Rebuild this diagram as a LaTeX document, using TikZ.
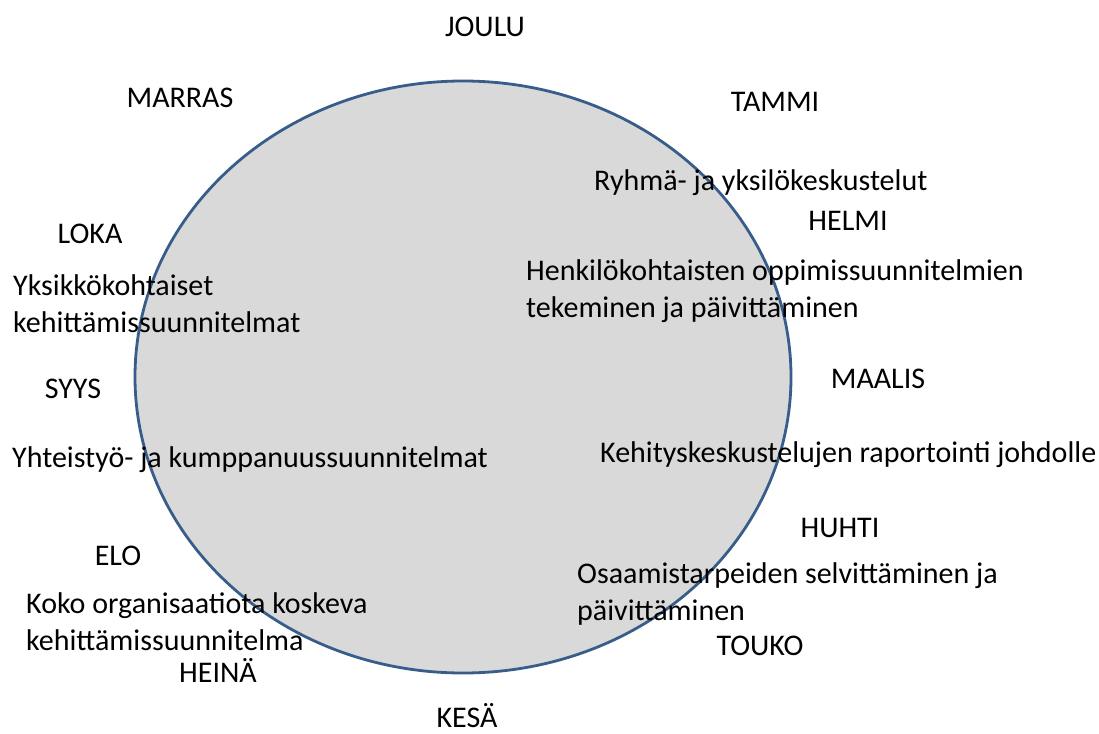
\documentclass[tikz,border=0pt]{standalone}
\usepackage{fontspec}
\setmainfont{Carlito}
\usepackage{tikz}
\usetikzlibrary{shapes}
\definecolor{rimblue}{HTML}{385D8A}
\definecolor{discgray}{HTML}{D9D9D9}

\begin{document}
\begin{tikzpicture}[x=1pt,y=-1pt,
  month/.style={anchor=base,inner sep=0pt,font=\fontsize{30}{37}\selectfont},
  task/.style={anchor=base west,inner sep=0pt,align=left,font=\fontsize{30}{37}\selectfont}]
\useasboundingbox (0,0) rectangle (1099,733);
\draw [fill=discgray,draw=rimblue,line width=2.8pt] (463,377) ellipse [x radius=328,y radius=296];
\node [month] (joulu) at (485,37) {JOULU};
\node [month] (marras) at (180,107) {MARRAS};
\node [month] (tammi) at (775,112) {TAMMI};
\node [month] (helmi) at (848,230) {HELMI};
\node [month] (loka) at (90,243) {LOKA};
\node [month] (syys) at (73,398) {SYYS};
\node [month] (maalis) at (878,388) {MAALIS};
\node [month] (huhti) at (840,537) {HUHTI};
\node [month] (elo) at (118,565) {ELO};
\node [month] (touko) at (760,655) {TOUKO};
\node [month] (heina) at (218,682) {HEINÄ};
\node [month] (kesa) at (467,727) {KESÄ};
\node [task] (ryhma) at (594,190) {Ryhmä- ja yksilökeskustelut};
\node [task] (henk) at (526,317) {Henkilökohtaisten oppimissuunnitelmien\\tekeminen ja päivittäminen};
\node [task] (yksik) at (13,332) {Yksikkökohtaiset\\kehittämissuunnitelmat};
\node [task] (yhteis) at (12,467) {Yhteistyö- ja kumppanuussuunnitelmat};
\node [task] (kehit) at (600,462) {Kehityskeskustelujen raportointi johdolle};
\node [task] (osaam) at (577,620) {Osaamistarpeiden selvittäminen ja\\päivittäminen};
\node [task] (koko) at (26,650) {Koko organisaatiota koskeva\\kehittämissuunnitelma};
\end{tikzpicture}
\end{document}
